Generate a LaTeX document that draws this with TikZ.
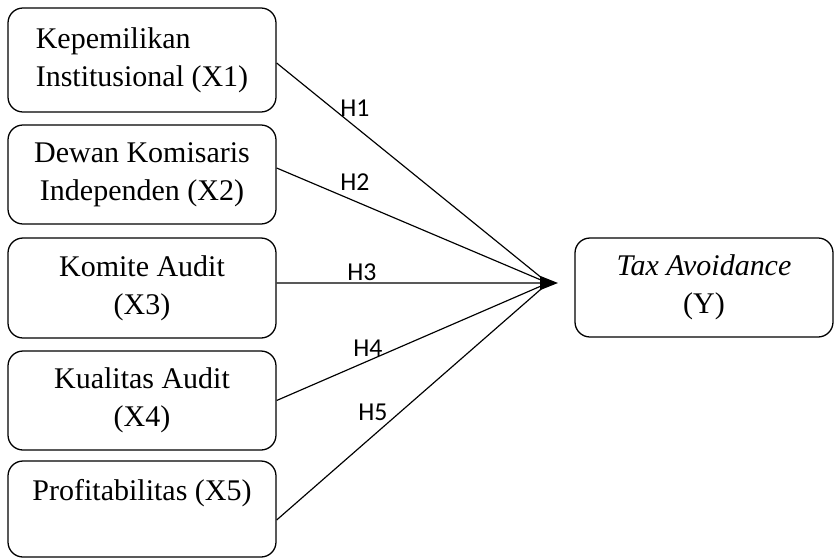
\documentclass[tikz,border=0pt]{standalone}
\usepackage{fontspec}
\setmainfont{Liberation Serif}
\newfontfamily\hypfont{Carlito}
\usetikzlibrary{arrows.meta}
\tikzset{
  varbox/.style={draw, rounded corners=0.45cm, line width=1.1pt, minimum width=8.04cm,
    minimum height=2.97cm, align=center, font=\fontsize{25.6}{32.4}\selectfont},
  hyp/.style={font=\hypfont\fontsize{22}{26}\selectfont, inner sep=0pt},
  link/.style={line width=1.0pt}
}
\begin{document}
\begin{tikzpicture}
\useasboundingbox (0,0) rectangle (25.02,-16.74);
% variabel independen
\node[varbox, minimum height=3.12cm, align=left] (x1) at (4.26,-1.80) {Kepemilikan\\Institusional (X1)};
\node[varbox] (x2) at (4.26,-5.235) {Dewan Komisaris\\Independen (X2)};
\node[varbox, minimum height=3.0cm] (x3) at (4.26,-8.64) {Komite Audit\\(X3)};
\node[varbox] (x4) at (4.26,-12.015) {Kualitas Audit\\(X4)};
\node[varbox, minimum height=2.88cm] (x5) at (4.26,-15.27) {Profitabilitas (X5)\\\mbox{}};
% variabel dependen
\node[varbox, minimum width=7.74cm] (y) at (21.12,-8.625) {\textit{Tax Avoidance}\\(Y)};
\coordinate (hub) at (16.44,-8.49);
\coordinate (tip) at (16.74,-8.49);
% garis hipotesis
\draw[link] ([yshift=-0.09cm]x1.east) -- (hub);
\draw[link] ([yshift=0.195cm]x2.east) -- (hub);
\draw[link, -{Triangle[length=0.54cm, width=0.42cm]}] ([yshift=0.15cm]x3.east) -- (tip);
\draw[link] (x4.east) -- (hub);
\draw[link] ([yshift=-0.33cm]x5.east) -- (hub);
\node[hyp] (h1) at (10.65,-3.24) {H1};
\node[hyp] (h2) at (10.65,-5.46) {H2};
\node[hyp] (h3) at (10.86,-8.16) {H3};
\node[hyp] (h4) at (11.04,-10.44) {H4};
\node[hyp] (h5) at (11.19,-12.36) {H5};
\end{tikzpicture}
\end{document}
